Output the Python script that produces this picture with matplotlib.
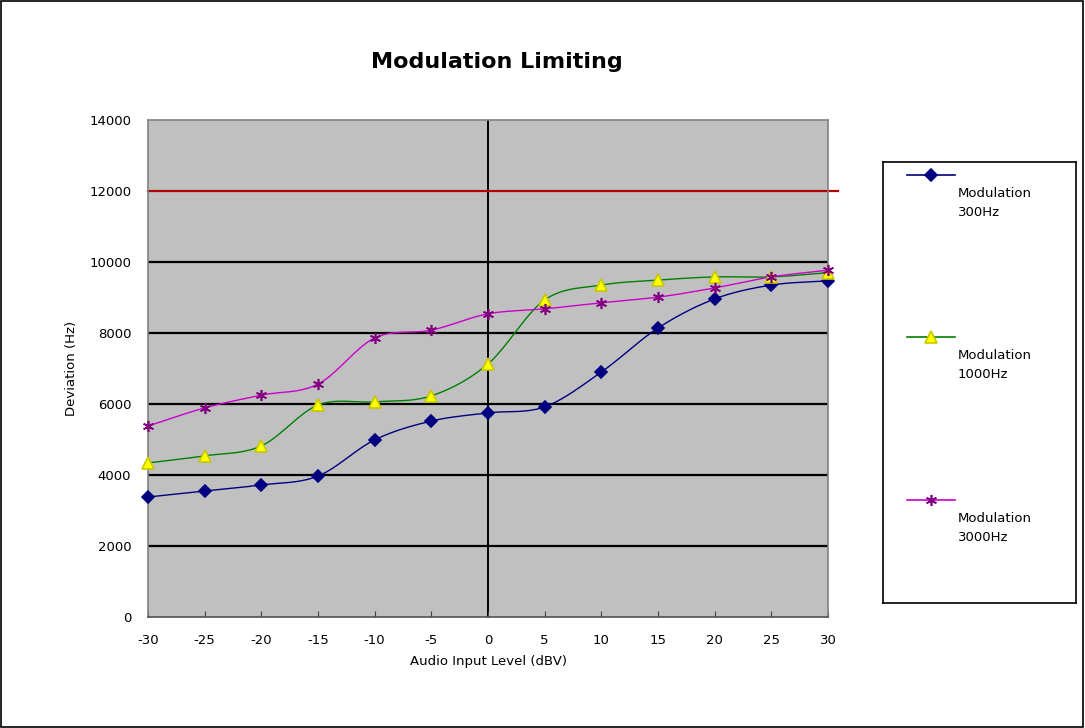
import numpy as np
import matplotlib
matplotlib.use("Agg")
import matplotlib.pyplot as plt
from matplotlib.patches import Rectangle

# ---- data ----
levels = [-30, -25, -20, -15, -10, -5, 0, 5, 10, 15, 20, 25, 30]
mod_300 = [3380, 3550, 3720, 3970, 4990, 5520, 5750, 5920, 6900, 8140, 8960, 9350, 9470]
mod_1000 = [4340, 4540, 4820, 5970, 6060, 6230, 7130, 8930, 9350, 9490, 9580, 9580, 9700]
mod_3000 = [5380, 5890, 6250, 6560, 7860, 8080, 8540, 8680, 8850, 9010, 9270, 9580, 9770]
limit_value = 12000
series_names = ["Modulation\n300Hz", "Modulation\n1000Hz", "Modulation\n3000Hz"]
x_ticks = list(range(-30, 31, 5))
y_ticks = list(range(0, 14001, 2000))


def smooth(xs, ys, n=20):
    xs = np.asarray(xs, float)
    ys = np.asarray(ys, float)
    px = np.concatenate([[2 * xs[0] - xs[1]], xs, [2 * xs[-1] - xs[-2]]])
    py = np.concatenate([[2 * ys[0] - ys[1]], ys, [2 * ys[-1] - ys[-2]]])
    ox, oy = [], []
    for i in range(1, len(px) - 2):
        t = np.linspace(0, 1, n, endpoint=False)
        for p, o in ((px, ox), (py, oy)):
            p0, p1, p2, p3 = p[i - 1], p[i], p[i + 1], p[i + 2]
            o.extend(0.5 * ((2 * p1) + (-p0 + p2) * t +
                            (2 * p0 - 5 * p1 + 4 * p2 - p3) * t ** 2 +
                            (-p0 + 3 * p1 - 3 * p2 + p3) * t ** 3))
    ox.append(xs[-1])
    oy.append(ys[-1])
    return np.array(ox), np.array(oy)


W, H = 1085, 728
fig = plt.figure(figsize=(W / 100, H / 100), dpi=100)
fig.patch.set_facecolor("white")

ax = fig.add_axes([148 / W, 1 - 617 / H, (828 - 148) / W, (617 - 120) / H])
ax.set_facecolor("#C0C0C0")
ax.set_xlim(-30, 30)
ax.set_ylim(0, 14000)
ax.set_xticks(x_ticks)
ax.set_yticks(y_ticks)
ax.set_xticklabels([str(v) for v in x_ticks], fontsize=9.5)
ax.set_yticklabels([str(v) for v in y_ticks], fontsize=9.5)
ax.tick_params(axis="x", direction="in", length=4, color="#404040", pad=12)
ax.tick_params(axis="y", length=0, pad=12)
for s in ax.spines.values():
    s.set_color("#808080")
    s.set_linewidth(1.2)
ax.spines["bottom"].set_color("#505050")

for yv in y_ticks[1:-1]:
    if yv == limit_value:
        continue
    ax.axhline(yv, color="black", lw=1.6, zorder=1)
ax.axvline(0, color="black", lw=1.4, zorder=1)
ax.axhline(limit_value, xmin=0, xmax=1.015, color="#B00000", lw=1.6,
           clip_on=False, zorder=2)

styles = [
    dict(data=mod_300, lc="#000080", marker="D", mfc="#000080", mec="#000080", ms=6),
    dict(data=mod_1000, lc="#008000", marker="^", mfc="#FFFF00", mec="#C8C800", ms=8),
    dict(data=mod_3000, lc="#CC00CC", marker=(6, 2, 0), mfc="#800080", mec="#800080", ms=8),
]
for st in styles:
    sx, sy = smooth(levels, st["data"])
    ax.plot(sx, sy, color=st["lc"], lw=1.0, zorder=3)
    ax.plot(levels, st["data"], ls="none", marker=st["marker"], mfc=st["mfc"],
            mec=st["mec"], ms=st["ms"], mew=1.2, zorder=4, clip_on=False)

ax.set_xlabel("Audio Input Level (dBV)", fontsize=9.5, labelpad=6)
ax.set_ylabel("Deviation (Hz)", fontsize=9.5, labelpad=8)
fig.text(497 / W, 1 - 62 / H, "Modulation Limiting", ha="center", va="center",
         fontsize=16, fontweight="bold")

# legend box
lax = fig.add_axes([883 / W, 1 - 603 / H, (1076 - 883) / W, (603 - 162) / H])
lax.set_xlim(883, 1076)
lax.set_ylim(603, 162)
lax.set_xticks([])
lax.set_yticks([])
for s in lax.spines.values():
    s.set_color("black")
    s.set_linewidth(1.2)
entry_y = [175, 337, 500]
for st, name, ey in zip(styles, series_names, entry_y):
    lax.plot([907, 955], [ey, ey], color=st["lc"], lw=1.2)
    lax.plot([931], [ey], marker=st["marker"], mfc=st["mfc"], mec=st["mec"],
             ms=st["ms"], mew=1.2, ls="none")
    lax.text(958, ey + 12, name, fontsize=9.5, va="top", ha="left",
             linespacing=1.6)

# figure border
fig.patches.append(Rectangle((0.0005, 0.0008), 0.998, 0.998, transform=fig.transFigure,
                             fill=False, edgecolor="black", lw=1.2))

fig.savefig("out.png", dpi=100)
